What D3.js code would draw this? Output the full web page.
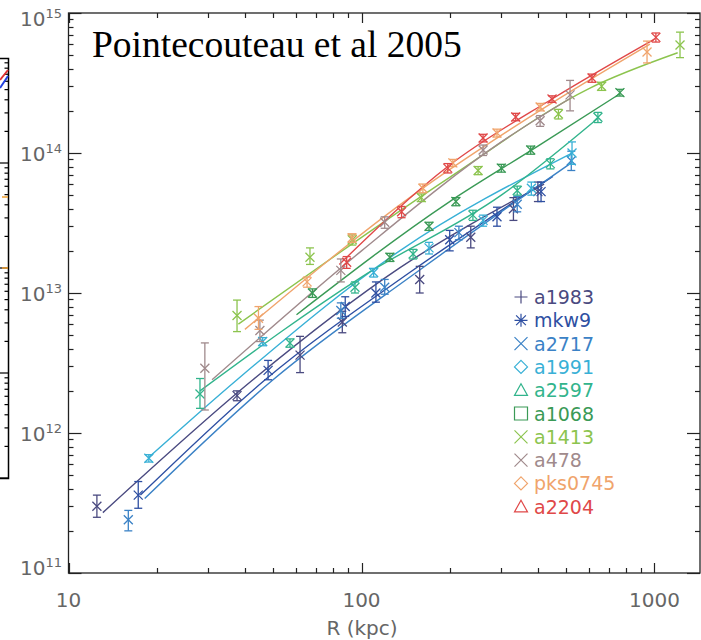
<!DOCTYPE html>
<html><head><meta charset="utf-8">
<script src="https://cdn.jsdelivr.net/npm/d3@7"></script>
<style>body{margin:0;background:#fff}svg{display:block}</style>
</head><body>
<svg id="c" width="701" height="640"></svg>
<script>
const names = ["a1983","mkw9","a2717","a1991","a2597","a1068","a1413","a478","pks0745","a2204"];
const colors = ["#4a4a80","#2e4fa2","#3b82c6","#38b0d6","#32b48c","#3a9a56","#8cc44e","#a08a8c","#f0a46c","#e04848"];
const symbols = ["plus","asterisk","cross","diamond","triangle","square","cross","cross","diamond","triangle"];
// points: [R (kpc), M, Mlow, Mhigh]
const pts_a1983 = [[12.5,3.0e11,2.5e11,3.6e11],[37.6,1.85e12,1.7e12,2.0e12],[61.7,3.6e12,2.7e12,4.9e12],[86,6.2e12,5.2e12,7.4e12],[158,1.25e13,1.0e13,1.55e13],[236,2.5e13,2.1e13,3.0e13],[330,4.0e13,3.3e13,4.8e13],[400,5.3e13,4.5e13,6.2e13]];
const pts_mkw9 = [[17.3,3.6e11,2.9e11,4.5e11],[48,2.8e12,2.4e12,3.3e12],[88,8.0e12,6.8e12,9.4e12],[112,1.0e13,8.6e12,1.2e13],[200,2.4e13,2.0e13,2.8e13],[290,3.5e13,3.0e13,4.1e13],[410,5.3e13,4.5e13,6.2e13]];
const pts_a2717 = [[16.0,2.4e11,2.0e11,2.8e11],[85,7.5e12,6.6e12,8.5e12],[120,1.1e13,9.8e12,1.25e13],[215,2.7e13,2.4e13,3.0e13],[340,4.3e13,3.8e13,4.9e13],[520,8.8e13,7.5e13,1.03e14]];
const pts_a1991 = [[18.8,6.6e11,6.2e11,7.0e11],[46,4.5e12,4.2e12,4.8e12],[110,1.4e13,1.3e13,1.5e13],[170,2.1e13,1.9e13,2.3e13],[260,3.3e13,3.0e13,3.6e13],[380,5.6e13,5.0e13,6.2e13],[523,1.0e14,8.3e13,1.2e14]];
const pts_a2597 = [[28.1,1.9e12,1.5e12,2.45e12],[57,4.4e12,4.1e12,4.7e12],[95,1.1e13,1.0e13,1.2e13],[150,1.9e13,1.75e13,2.05e13],[240,3.6e13,3.3e13,3.9e13],[340,5.4e13,5.0e13,5.8e13],[441,8.4e13,7.7e13,9.1e13],[641,1.8e14,1.65e14,1.95e14]];
const pts_a1068 = [[68,1.0e13,9.3e12,1.07e13],[125,1.8e13,1.68e13,1.92e13],[170,3.0e13,2.8e13,3.2e13],[210,4.5e13,4.2e13,4.8e13],[300,7.8e13,7.3e13,8.3e13],[378,1.05e14,9.8e13,1.12e14],[762,2.7e14,2.55e14,2.85e14]];
const pts_a1413 = [[37.6,6.9e12,5.3e12,8.9e12],[66.7,1.8e13,1.6e13,2.1e13],[93,2.4e13,2.2e13,2.6e13],[160,4.8e13,4.5e13,5.1e13],[250,7.5e13,7.0e13,8.0e13],[470,1.9e14,1.75e14,2.05e14],[660,3.0e14,2.8e14,3.2e14],[1222,5.9e14,4.8e14,7.3e14]];
const pts_a478 = [[29.2,2.9e12,1.46e12,4.4e12],[45,5.4e12,4.5e12,6.4e12],[85,1.45e13,1.2e13,1.75e13],[120,3.2e13,2.9e13,3.5e13],[260,1.05e14,9.6e13,1.14e14],[407,1.7e14,1.55e14,1.85e14],[515,2.6e14,2.0e14,3.3e14]];
const pts_pks0745 = [[44.5,6.6e12,5.5e12,8.0e12],[65.2,1.2e13,1.1e13,1.3e13],[92.8,2.47e13,2.3e13,2.65e13],[162,5.6e13,5.2e13,6.0e13],[205,8.5e13,8.0e13,9.0e13],[290,1.39e14,1.3e14,1.48e14],[407,2.13e14,2.0e14,2.26e14],[943,5.27e14,4.4e14,6.3e14]];
const pts_a2204 = [[89,1.66e13,1.5e13,1.82e13],[137,3.8e13,3.45e13,4.15e13],[197,7.8e13,7.2e13,8.4e13],[260,1.28e14,1.2e14,1.36e14],[336,1.81e14,1.7e14,1.92e14],[447,2.43e14,2.3e14,2.56e14],[612,3.43e14,3.2e14,3.66e14],[1011,6.7e14,6.2e14,7.2e14]];
// fitted curves: [R (kpc), M]
const fit_a1983 = [[13.1,2.7e11],[42.6,2.4e12],[135,1.51e13],[420,6.0e13]];
const fit_mkw9 = [[17.6,3.6e11],[46.9,2.4e12],[146,1.4e13],[450,6.8e13]];
const fit_a2717 = [[18.2,3.4e11],[49.9,2.4e12],[158,1.46e13],[520,8.5e13]];
const fit_a1991 = [[18.8,6.7e11],[37.6,2.4e12],[135,2.0e13],[523,1.0e14]];
const fit_a2597 = [[28.1,2.0e12],[100,1.3e13],[300,5.0e13],[641,1.77e14]];
const fit_a1068 = [[60,7.0e12],[200,4.5e13],[400,1.12e14],[762,2.65e14]];
const fit_a1413 = [[38,6.0e12],[200,6.7e13],[600,2.9e14],[1200,5.2e14]];
const fit_a478 = [[30.9,2.4e12],[100,2.0e13],[300,1.2e14],[515,2.45e14]];
const fit_pks0745 = [[40,5.5e12],[150,5.0e13],[450,2.3e14],[965,6.0e14]];
const fit_a2204 = [[84,1.6e13],[200,8.2e13],[450,2.45e14],[1000,6.5e14]];
const xTickLabels = ["10","100","1000"];
const yTickExps = ["11","12","13","14","15"];

const points = [pts_a1983,pts_mkw9,pts_a2717,pts_a1991,pts_a2597,pts_a1068,pts_a1413,pts_a478,pts_pks0745,pts_a2204];
const fits = [fit_a1983,fit_mkw9,fit_a2717,fit_a1991,fit_a2597,fit_a1068,fit_a1413,fit_a478,fit_pks0745,fit_a2204];

const svg = d3.select("#c");
const L = 68.5, R = 700, T = 13, B = 573;
const x = d3.scaleLog().domain([10, Math.pow(10, 1 + (R - L) / 293)]).range([L, R]);
const y = d3.scaleLog().domain([1e11, 1e15]).range([B, T]);

// neighbouring panel edge (cropped)
const nb = svg.append("g");
const ny = d3.scaleLog().domain([1e11, 1e15]).range([478, 58]);
nb.append("path").attr("d", "M0,58.5H8.5V478.5H0").attr("fill","none").attr("stroke","#000").attr("stroke-width",1.5);
const nbt = [];
for (let e = 11; e < 15; e++) for (let k = 1; k < 10; k++) nbt.push(k * Math.pow(10, e));
nb.selectAll("line.nt").data(nbt).enter().append("line")
  .attr("x1", 8.5).attr("x2", d => (Math.abs(Math.log10(d) % 1) < 1e-9 ? 0 : 4.5))
  .attr("y1", d => ny(d)).attr("y2", d => ny(d)).attr("stroke","#000").attr("stroke-width",1.2);
nb.append("path").attr("d","M0,80 L8,70").attr("stroke","#e03030").attr("stroke-width",2).attr("fill","none");
nb.append("path").attr("d","M0,88 L8,76").attr("stroke","#2040e0").attr("stroke-width",2).attr("fill","none");
nb.append("line").attr("x1",2).attr("x2",8).attr("y1",197).attr("y2",197).attr("stroke","#f0a030").attr("stroke-width",1.5);
nb.append("line").attr("x1",2).attr("x2",8).attr("y1",268).attr("y2",268).attr("stroke","#f0a030").attr("stroke-width",1.5);

// frame + ticks
const g = svg.append("g");
g.append("rect").attr("x", L).attr("y", T).attr("width", R - L).attr("height", B - T)
  .attr("fill","none").attr("stroke","#222").attr("stroke-width",1.3);
const xt = [];
for (let e = 1; e <= 3; e++) for (let k = 1; k < 10; k++) { const v = k * Math.pow(10, e); if (v <= x.domain()[1]) xt.push([v, k === 1]); }
xt.forEach(([v, maj]) => {
  const px = Math.round(x(v)) + 0.5, len = maj ? 10 : 5;
  g.append("line").attr("x1",px).attr("x2",px).attr("y1",B).attr("y2",B-len).attr("stroke","#222").attr("stroke-width",1.2);
  g.append("line").attr("x1",px).attr("x2",px).attr("y1",T).attr("y2",T+len).attr("stroke","#222").attr("stroke-width",1.2);
});
const yt = [];
for (let e = 11; e <= 15; e++) for (let k = 1; k < 10; k++) { const v = k * Math.pow(10, e); if (v <= 1e15) yt.push([v, k === 1]); }
yt.forEach(([v, maj]) => {
  const py = Math.round(y(v)) + 0.5, len = maj ? 13 : 5;
  g.append("line").attr("x1",L).attr("x2",L+len).attr("y1",py).attr("y2",py).attr("stroke","#222").attr("stroke-width",1.2);
  g.append("line").attr("x1",R).attr("x2",R-len).attr("y1",py).attr("y2",py).attr("stroke","#222").attr("stroke-width",1.2);
});
const fnt = "'DejaVu Sans', sans-serif";
xTickLabels.forEach(t => {
  g.append("text").attr("x", x(+t)).attr("y", 607).attr("text-anchor","middle")
    .attr("font-family", fnt).attr("font-size", 20).attr("fill","#666").text(t);
});
yTickExps.forEach((e, i) => {
  const v = Math.pow(10, +e);
  const off = i === 0 ? 2 : (i === yTickExps.length - 1 ? 13 : 8);
  const t = g.append("text").attr("x", 62).attr("y", y(v) + off).attr("text-anchor","end")
    .attr("font-family", fnt).attr("font-size", 20).attr("fill","#666");
  t.append("tspan").text("10");
  t.append("tspan").attr("font-size", 13).attr("dy", -8).text(e);
});
g.append("text").attr("x", 362).attr("y", 635).attr("text-anchor","middle")
  .attr("font-family", fnt).attr("font-size", 20).attr("fill","#666").text("R (kpc)");

// data
const plot = svg.append("g");
const line = d3.line().x(d => x(d[0])).y(d => y(d[1])).curve(d3.curveMonotoneX);
fits.forEach((f, i) => {
  plot.append("path").attr("d", line(f)).attr("fill","none").attr("stroke", colors[i]).attr("stroke-width", 1.4);
});
points.forEach((p, i) => {
  const gg = plot.append("g").attr("stroke", colors[i]).attr("stroke-width", 1.3).attr("fill","none");
  p.forEach(d => {
    const px = x(d[0]), py = y(d[1]), lo = y(d[2]), hi = y(d[3]), s = 4.5, c = 4;
    gg.append("line").attr("x1",px).attr("x2",px).attr("y1",lo).attr("y2",hi);
    gg.append("line").attr("x1",px-c).attr("x2",px+c).attr("y1",lo).attr("y2",lo);
    gg.append("line").attr("x1",px-c).attr("x2",px+c).attr("y1",hi).attr("y2",hi);
    gg.append("path").attr("d", `M${px-s},${py-s}L${px+s},${py+s}M${px-s},${py+s}L${px+s},${py-s}`);
  });
});

// title
svg.append("text").attr("x", 92).attr("y", 57).attr("font-family","'Liberation Serif','Times New Roman',serif")
  .attr("font-size", 37.5).attr("fill","#000").text("Pointecouteau et al 2005");

// legend
const lg = svg.append("g");
function sym(type, cx, cy, r) {
  switch (type) {
    case "plus": return `M${cx-r},${cy}H${cx+r}M${cx},${cy-r}V${cy+r}`;
    case "cross": return `M${cx-r},${cy-r}L${cx+r},${cy+r}M${cx-r},${cy+r}L${cx+r},${cy-r}`;
    case "asterisk": return `M${cx-r},${cy}H${cx+r}M${cx},${cy-r}V${cy+r}M${cx-r*0.75},${cy-r*0.75}L${cx+r*0.75},${cy+r*0.75}M${cx-r*0.75},${cy+r*0.75}L${cx+r*0.75},${cy-r*0.75}`;
    case "diamond": return `M${cx},${cy-r}L${cx+r},${cy}L${cx},${cy+r}L${cx-r},${cy}Z`;
    case "triangle": return `M${cx},${cy-r}L${cx+r},${cy+r*0.8}L${cx-r},${cy+r*0.8}Z`;
    case "square": return `M${cx-r},${cy-r}H${cx+r}V${cy+r}H${cx-r}Z`;
  }
}
names.forEach((n, i) => {
  const cy = 297 + i * 23.3;
  lg.append("path").attr("d", sym(symbols[i], 521, cy, 6.5)).attr("fill","none")
    .attr("stroke", colors[i]).attr("stroke-width", 1.2);
  lg.append("text").attr("x", 534).attr("y", cy + 7).attr("font-family", fnt).attr("font-size", 19)
    .attr("fill", colors[i]).text(n);
});
</script>
</body></html>
